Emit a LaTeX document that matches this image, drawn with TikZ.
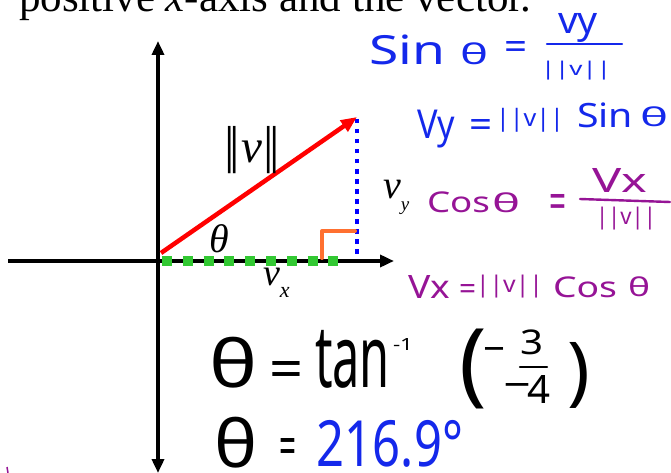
\documentclass[tikz,border=0pt]{standalone}
\usepackage{graphicx}
\usepackage{fontspec}
\setmainfont{Liberation Serif}
\newfontfamily\hand{Noto Sans}
\usetikzlibrary{arrows.meta}
\definecolor{hblue}{RGB}{20,40,235}
\definecolor{hpurple}{RGB}{150,20,150}
\definecolor{vgreen}{RGB}{50,200,50}
\definecolor{vorange}{RGB}{255,112,48}
\definecolor{vblue}{RGB}{0,0,255}
\newcommand\hw[3]{\resizebox*{#1pt}{#2pt}{\hand #3}}
\newcommand\hwa[2]{\resizebox{#1pt}{!}{\hand #2}}
\newcommand\hwh[2]{\resizebox*{!}{#1pt}{\hand #2}}
\begin{document}
\begin{tikzpicture}[x=1pt,y=-1pt,
  hwn/.style={inner sep=0pt, outer sep=0pt},
  lbl/.style={inner sep=0pt, outer sep=0pt},
  tipA/.tip={Triangle[length=14pt,width=12pt]},
  axisline/.style={line width=4.5pt, black},
  hbar/.style={line width=2.4pt, line cap=round}]
\clip (0,0) rectangle (671,473);
\fill[white] (0,0) rectangle (671,473);
% title
\node[anchor=base west, lbl] (title) at (19,12) {\fontsize{43}{43}\selectfont positive \textit{x}-axis and the vector.};
% axes
\coordinate (vtop) at (158,41);
\coordinate (vbot) at (158,473);
\coordinate (hleft) at (8,261);
\coordinate (hright) at (394,261);
\draw[axisline, tipA-tipA] (vbot) -- (vtop);
\draw[axisline, -tipA] (hleft) -- (hright);
% components
\coordinate (gs) at (162,261);
\coordinate (ge) at (339,261);
\draw[vgreen, line width=9.5pt, dash pattern=on 10pt off 10.8pt] (gs) -- (ge);
\coordinate (bs) at (357,119);
\coordinate (be) at (357,259);
\draw[vblue, line width=4.5pt, dash pattern=on 4.5pt off 5.5pt] (bs) -- (be);
\coordinate (r1) at (322,258);
\coordinate (r2) at (322,231);
\coordinate (r3) at (355,231);
\draw[vorange, line width=4pt, line cap=round, line join=round] (r1) -- (r2) -- (r3);
% vector
\coordinate (o) at (161,253);
\coordinate (vt) at (357,117);
\draw[red, line width=4.5pt, -{Triangle[length=16pt,width=13pt]}] (o) -- (vt);
% labels
\node[lbl] (th) at (219,239) {\fontsize{40}{40}\selectfont\textit{θ}};
\node[anchor=base west, lbl] (nv) at (224,163) {\fontsize{52}{52}\selectfont|\kern-4.5pt|\kern1pt{\fontsize{47}{47}\selectfont\textit{v}}\kern1pt|\kern-4.5pt|};
\node[anchor=base west, lbl] (vx) at (263,285) {\fontsize{38}{38}\selectfont\textit{v}\raisebox{-12pt}{\fontsize{22}{22}\selectfont\textit{x}}};
\node[anchor=base west, lbl] (vy) at (383,198) {\fontsize{40}{40}\selectfont\textit{v}\raisebox{-12.6pt}{\fontsize{19}{19}\selectfont\textit{y}}};
% blue handwriting
\begin{scope}[hblue]
\node[hwn] (b1) at (407,50) {\hw{76}{30}{Sin}};
\node[hwn] (b2) at (474,54) {\hw{28}{22}{θ}};
\node[hwn] (b3) at (515.5,51) {\hw{23}{18}{=}};
\coordinate (f1a) at (547,44);
\coordinate (f1b) at (622,44);
\draw[hbar] (f1a) -- (f1b);
\node[hwn] (b4) at (578,27.5) {\hw{40}{29}{vy}};
\node[hwn] (b5) at (576,71) {\hw{70}{19}{||v||}};
\node[hwn] (b6) at (436,129) {\hw{38}{38}{Vy}};
\node[hwn] (b7) at (480.5,128) {\hw{23}{18}{=}};
\node[hwn] (b8) at (530,120) {\hw{68}{24}{||v||}};
\node[hwn] (b9) at (605,115.5) {\hw{56}{25}{Sin}};
\node[hwn] (b10) at (654,117) {\hw{28}{20}{θ}};
\node[hwn] (b11) at (390,443.5) {\hw{146}{47}{216.9°}};
\end{scope}
% purple handwriting
\begin{scope}[hpurple]
\node[hwn] (p1) at (458.5,202.5) {\hw{63}{21}{Cos}};
\node[hwn] (p2) at (506,203) {\hw{28}{20}{θ}};
\node[hwn] (p3) at (557.5,207) {\hw{17}{25}{=}};
\coordinate (f2a) at (580,199);
\coordinate (f2b) at (670,202);
\draw[hbar] (f2a) -- (f2b);
\node[hwn] (p4) at (619.5,180) {\hw{55}{24}{Vx}};
\node[hwn] (p5) at (626,218.5) {\hw{60}{23}{||v||}};
\node[hwn] (p6) at (429,286.5) {\hw{42}{23}{Vx}};
\node[hwn] (p7) at (467.5,291.5) {\hw{17}{15}{=}};
\node[hwn] (p8) at (509.5,286.5) {\hw{67}{23}{||v||}};
\node[hwn] (p9) at (585,287.5) {\hw{64}{21}{Cos}};
\node[hwn] (p10) at (639,287) {\hw{22}{20}{θ}};
\coordinate (mk1) at (7,467);
\coordinate (mk2) at (8,473);
\draw[line width=1.5pt] (mk1) -- (mk2);
\end{scope}
% black handwriting
\node[hwn] (k1) at (234,362.5) {\hw{48}{51}{θ}};
\node[hwn] (k2) at (286,374.5) {\hw{34}{27}{=}};
\node[hwn] (k3) at (352.5,359) {\hw{75}{58}{tan}};
\node[hwn] (k4) at (403,344) {\hw{20}{12}{-1}};
\node[hwn] (k5) at (473.5,369) {\hwh{80}{(}};
\node[hwn] (k6) at (494.5,353) {\hw{24}{11}{-}};
\node[hwn] (k7) at (531.5,342.5) {\hw{23}{25}{3}};
\coordinate (f3a) at (520,367);
\coordinate (f3b) at (547,367);
\draw[hbar] (f3a) -- (f3b);
\node[hwn] (k8) at (517.5,389) {\hw{30}{11}{-}};
\node[hwn] (k9) at (538.5,389) {\hw{23}{28}{4}};
\node[hwn] (k10) at (579,375) {\hwh{66}{)}};
\node[hwn] (k11) at (236.5,442.5) {\hw{43}{51}{θ}};
\node[hwn] (k12) at (287.5,451.5) {\hw{17}{27}{=}};
\end{tikzpicture}
\end{document}
